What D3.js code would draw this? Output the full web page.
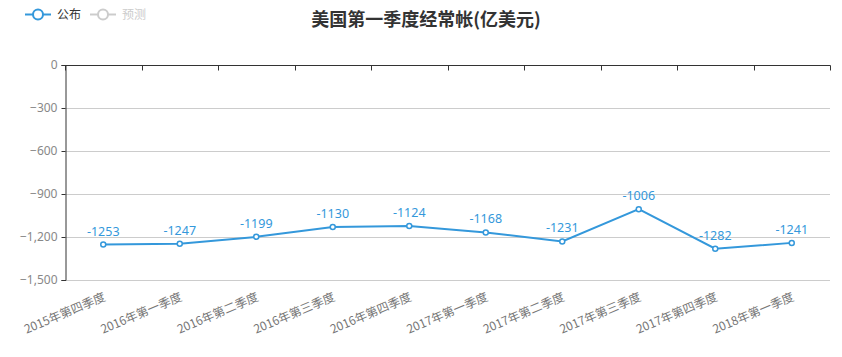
<!DOCTYPE html>
<html><head><meta charset="utf-8">
<script src="https://cdn.jsdelivr.net/npm/d3@7"></script>
<style>body{margin:0;background:#fff;} svg{display:block;font-family:"Noto Sans CJK SC","Noto Sans",sans-serif;}</style>
</head><body>
<svg id="c" width="842" height="357"></svg>
<script>
const categories = ["2015年第四季度","2016年第一季度","2016年第二季度","2016年第三季度","2016年第四季度","2017年第一季度","2017年第二季度","2017年第三季度","2017年第四季度","2018年第一季度"];
const published = [-1253,-1247,-1199,-1130,-1124,-1168,-1231,-1006,-1282,-1241];
const yTicks = [0,-300,-600,-900,-1200,-1500];
const legendNames = ["公布","预测"];
const titleText = "美国第一季度经常帐(亿美元)";

(function () {
const svg = d3.select("#c");
const pL = 65, pR = 830, pT = 65, pB = 280;
const blue = "#3498db";

const x = d3.scaleBand().domain(categories).range([pL, pR]);
const y = d3.scaleLinear().domain([-1500, 0]).range([pB, pT]);

// gridlines
svg.append("g").selectAll("line").data(yTicks.filter(d => d !== 0)).join("line")
  .attr("x1", pL).attr("x2", pR)
  .attr("y1", d => y(d) + 0.5).attr("y2", d => y(d) + 0.5)
  .attr("stroke", "#ccc").attr("stroke-width", 1);

// y axis
const yAxis = svg.append("g").attr("transform", `translate(${pL + 0.5},0)`)
  .call(d3.axisLeft(y).tickValues(yTicks).tickSize(4).tickPadding(4).tickFormat(d3.format(",")));
yAxis.select(".domain").attr("stroke", "#333");
yAxis.selectAll(".tick line").attr("stroke", "#333");
yAxis.selectAll("text").attr("fill", "#888").attr("font-size", 12)
  .style("font-family", "'Noto Sans','DejaVu Sans',sans-serif");

// x axis at top (zero line)
const xAxisG = svg.append("g").attr("transform", `translate(0,${pT + 0.5})`);
xAxisG.append("line").attr("x1", pL).attr("x2", pR + 0.5).attr("stroke", "#333");
const bounds = categories.map(c => x(c)).concat([pR]);
xAxisG.selectAll("line.t").data(bounds).join("line").attr("class", "t")
  .attr("x1", d => Math.round(d) + 0.5).attr("x2", d => Math.round(d) + 0.5)
  .attr("y1", 0).attr("y2", 5).attr("stroke", "#333");

// x labels (bottom, rotated)
svg.append("g").selectAll("text").data(categories).join("text")
  .attr("transform", d => `translate(${x(d) + x.bandwidth() / 2 + 3},${pB + 20}) rotate(-23)`)
  .attr("text-anchor", "end").attr("font-size", 12).attr("fill", "#777")
  .text(d => d);

// line
const line = d3.line().x((d, i) => x(categories[i]) + x.bandwidth() / 2).y(d => y(d));
svg.append("path").datum(published).attr("d", line)
  .attr("fill", "none").attr("stroke", blue).attr("stroke-width", 2);
svg.append("g").selectAll("circle").data(published).join("circle")
  .attr("cx", (d, i) => x(categories[i]) + x.bandwidth() / 2).attr("cy", d => y(d))
  .attr("r", 2.5).attr("fill", "#fff").attr("stroke", blue).attr("stroke-width", 1.5);
svg.append("g").selectAll("text").data(published).join("text")
  .attr("x", (d, i) => x(categories[i]) + x.bandwidth() / 2).attr("y", d => y(d) - 9)
  .attr("text-anchor", "middle").attr("font-size", 12.5).attr("fill", blue)
  .style("font-family", "'Noto Sans','DejaVu Sans',sans-serif")
  .text(d => d);

// title
svg.append("text").attr("x", 426).attr("y", 26).attr("text-anchor", "middle")
  .attr("font-size", 18).attr("font-weight", "bold").attr("fill", "#333").text(titleText);

// legend
const legColors = [blue, "#ccc"];
const legText = ["#333", "#ccc"];
const lg = svg.append("g").selectAll("g").data(legendNames).join("g")
  .attr("transform", (d, i) => `translate(${25 + i * 65},14)`);
lg.append("line").attr("x1", 0).attr("x2", 26).attr("y1", 0.5).attr("y2", 0.5)
  .attr("stroke", (d, i) => legColors[i]).attr("stroke-width", 2);
lg.append("circle").attr("cx", 13).attr("cy", 0.5).attr("r", 5)
  .attr("fill", "#fff").attr("stroke", (d, i) => legColors[i]).attr("stroke-width", 2);
lg.append("text").attr("x", 32).attr("y", 5).attr("font-size", 12)
  .attr("fill", (d, i) => legText[i]).text(d => d);
})();
</script>
</body></html>
